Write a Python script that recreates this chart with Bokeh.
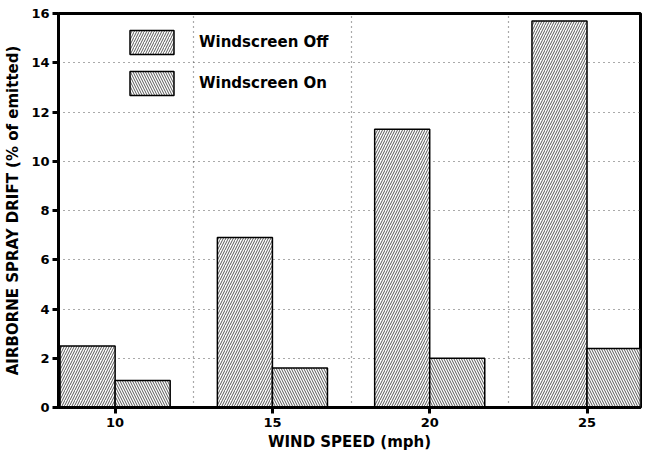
from bokeh.plotting import figure
from bokeh.models import ColumnDataSource, FixedTicker, Legend, LegendItem, Range1d
from bokeh.embed import file_html
from bokeh.resources import INLINE

wind_speed = [10, 15, 20, 25]
windscreen_off = [2.5, 6.9, 11.3, 15.7]
windscreen_on = [1.1, 1.6, 2.0, 2.4]
y_ticks = [0, 2, 4, 6, 8, 10, 12, 14, 16]
grid_x = [12.5, 17.5, 22.5]

bar_w = 1.75
FONT = "DejaVu Sans"

p = figure(width=642, height=453, output_backend="svg", toolbar_location=None,
           x_range=Range1d(8.2, 26.7), y_range=Range1d(0, 16),
           min_border_left=58, min_border_right=2, min_border_top=13, min_border_bottom=42)

src_off = ColumnDataSource(dict(x=[v - bar_w / 2 for v in wind_speed], top=windscreen_off))
src_on = ColumnDataSource(dict(x=[v + bar_w / 2 for v in wind_speed], top=windscreen_on))

r_off = p.vbar(x="x", top="top", bottom=0, width=bar_w, source=src_off,
               fill_color="white", line_color="black", line_width=1.5,
               hatch_pattern="/", hatch_color="#444444", hatch_scale=5, hatch_weight=0.9)
r_on = p.vbar(x="x", top="top", bottom=0, width=bar_w, source=src_on,
              fill_color="white", line_color="black", line_width=1.5,
              hatch_pattern="\\", hatch_color="#444444", hatch_scale=5, hatch_weight=0.9)

# axes
p.xaxis.ticker = FixedTicker(ticks=wind_speed)
p.yaxis.ticker = FixedTicker(ticks=y_ticks)
p.xaxis.axis_label = "WIND SPEED (mph)"
p.yaxis.axis_label = "AIRBORNE SPRAY DRIFT (% of emitted)"
for ax in (p.xaxis[0], p.yaxis[0]):
    ax.axis_line_width = 3
    ax.axis_line_color = "black"
    ax.major_tick_line_width = 3
    ax.major_tick_line_color = "black"
    ax.major_tick_out = 6
    ax.major_tick_in = 0
    ax.minor_tick_line_color = None
    ax.major_label_text_font = FONT
    ax.major_label_text_font_style = "bold"
    ax.major_label_text_font_size = "13px"
    ax.major_label_text_color = "black"
    ax.axis_label_text_font = FONT
    ax.axis_label_text_font_style = "bold"
    ax.axis_label_text_color = "black"
p.xaxis.axis_label_text_font_size = "15px"
p.yaxis.axis_label_text_font_size = "15px"
p.xaxis.axis_label_standoff = 3
p.yaxis.axis_label_standoff = 6
p.xaxis.major_label_standoff = 4
p.yaxis.major_label_standoff = 3

# grid
p.ygrid.ticker = FixedTicker(ticks=y_ticks[1:-1])
p.xgrid.ticker = FixedTicker(ticks=grid_x)
for g in (p.xgrid[0], p.ygrid[0]):
    g.grid_line_color = "#555555"
    g.grid_line_dash = "1 4"
    g.grid_line_width = 1.2

p.outline_line_color = "black"
p.outline_line_width = 3
p.outline_line_alpha = 1

legend = Legend(items=[LegendItem(label="Windscreen Off", renderers=[r_off]),
                       LegendItem(label="Windscreen On", renderers=[r_on])],
                location=(66, 309), padding=0, margin=0, spacing=11,
                glyph_width=55, glyph_height=30, label_standoff=20,
                background_fill_alpha=0, border_line_alpha=0,
                label_text_font=FONT, label_text_font_style="bold",
                label_text_font_size="15px", label_text_color="black")
p.add_layout(legend)

open("out.html", "w").write(file_html(p, INLINE))
